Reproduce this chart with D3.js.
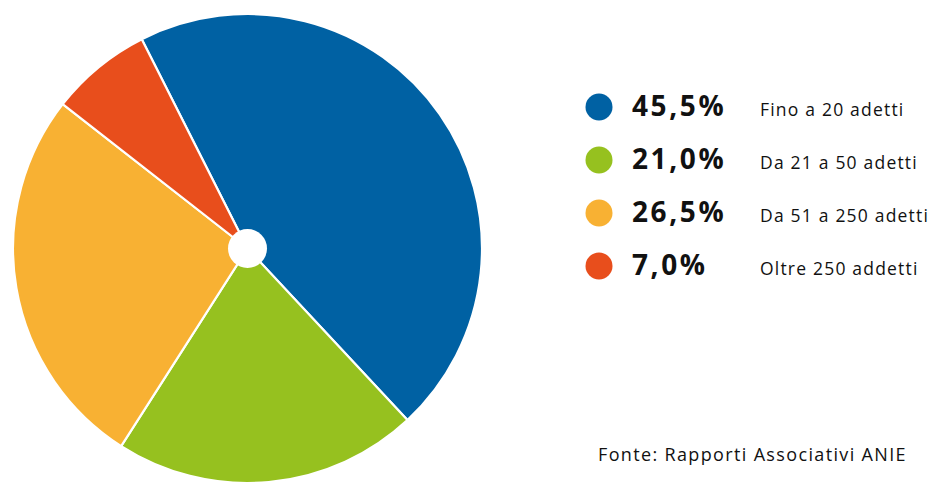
<!DOCTYPE html>
<html>
<head>
<meta charset="utf-8">
<script src="https://cdn.jsdelivr.net/npm/d3@7"></script>
<style>
  html, body { margin: 0; padding: 0; background: #ffffff; }
  svg { display: block; }
  text { font-family: "Open Sans", "Noto Sans", sans-serif; fill: #111111; }
</style>
</head>
<body>
<svg id="chart" width="931" height="482"></svg>
<script>
// Imprese associate per classe dimensionale
const categories = ["Fino a 20 adetti", "Da 21 a 50 adetti", "Da 51 a 250 adetti", "Oltre 250 addetti"];
const values = [45.5, 21.0, 26.5, 7.0];
const valueLabels = ["45,5%", "21,0%", "26,5%", "7,0%"];
const colors = ["#0061a3", "#96c11f", "#f8b133", "#e84e1c"];
const sourceNote = "Fonte: Rapporti Associativi ANIE";

const svg = d3.select("#chart");

const cx = 247.5, cy = 248.5, radius = 234.5;
const startDeg = -26.8;

const pie = d3.pie()
  .sort(null)
  .value(d => d)
  .startAngle(startDeg * Math.PI / 180)
  .endAngle((startDeg + 360) * Math.PI / 180);

const arc = d3.arc().innerRadius(0).outerRadius(radius);

const g = svg.append("g").attr("transform", `translate(${cx},${cy})`);

g.selectAll("path.slice")
  .data(pie(values))
  .join("path")
  .attr("class", "slice")
  .attr("d", arc)
  .attr("fill", (d, i) => colors[i])
  .attr("stroke", "#ffffff")
  .attr("stroke-width", 2.2)
  .attr("stroke-linejoin", "round");

// white hub in the middle
g.append("circle").attr("r", 19.5).attr("fill", "#ffffff");

// legend
const rowY = d3.scalePoint()
  .domain(categories)
  .range([116, 275]);

const legend = svg.append("g");
const rows = legend.selectAll("g.row")
  .data(categories)
  .join("g")
  .attr("class", "row")
  .attr("transform", d => `translate(0,${rowY(d)})`);

rows.append("circle")
  .attr("cx", 599)
  .attr("cy", -9)
  .attr("r", 13.5)
  .attr("fill", (d, i) => colors[i]);

rows.append("text")
  .attr("x", 632)
  .attr("y", 0)
  .attr("font-size", 28)
  .attr("font-weight", 700)
  .attr("letter-spacing", 2.6)
  .text((d, i) => valueLabels[i]);

rows.append("text")
  .attr("x", 760)
  .attr("y", 0)
  .attr("font-size", 17.5)
  .attr("letter-spacing", 1.2)
  .text(d => d);

svg.append("text")
  .attr("x", 598)
  .attr("y", 461)
  .attr("font-size", 18)
  .attr("letter-spacing", 1.35)
  .text(sourceNote);
</script>
</body>
</html>
